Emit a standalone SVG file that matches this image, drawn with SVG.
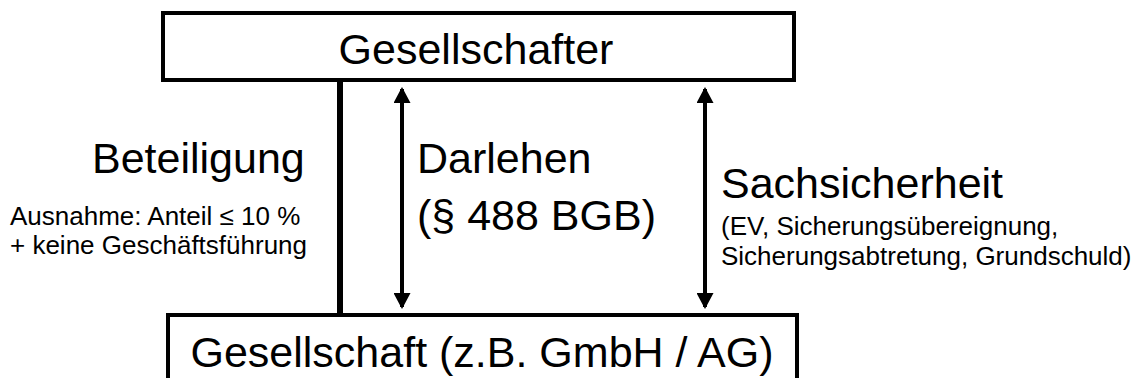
<svg xmlns="http://www.w3.org/2000/svg" width="1134" height="378" viewBox="0 0 1134 378">
<style>
.box{fill:#fff;stroke:#000;stroke-width:4}
.big{font-family:"Liberation Sans",Arial,sans-serif;font-size:43px;fill:#000}
.small{font-family:"Liberation Sans",Arial,sans-serif;font-size:26px;fill:#000}
.arr{stroke:#000;stroke-width:4;fill:none}
</style>
<defs>
<marker id="ah" viewBox="0 0 16 17" refX="14" refY="8.5" markerWidth="16" markerHeight="17" markerUnits="userSpaceOnUse" orient="auto-start-reverse">
<path d="M0,0 L16,8.5 L0,17 Z" fill="#000"/>
</marker>
</defs>
<g id="top">
<rect class="box" x="163" y="13" width="631" height="67"/>
<text class="big" x="476" y="64" text-anchor="middle">Gesellschafter</text>
</g>
<g id="bottom">
<rect class="box" x="168" y="315" width="629" height="80"/>
<text class="big" x="482" y="367" text-anchor="middle">Gesellschaft (z.B. GmbH / AG)</text>
</g>
<g id="connectors">
<line x1="340" y1="80" x2="340" y2="315" stroke="#000" stroke-width="6"/>
<line class="arr" x1="402" y1="89" x2="402" y2="307" marker-start="url(#ah)" marker-end="url(#ah)"/>
<line class="arr" x1="705" y1="89" x2="705" y2="307" marker-start="url(#ah)" marker-end="url(#ah)"/>
</g>
<g id="labels">
<text class="big" x="92" y="173">Beteiligung</text>
<text class="small" x="10" y="225">Ausnahme: Anteil ≤ 10 %</text>
<text class="small" x="10" y="254">+ keine Geschäftsführung</text>
<text class="big" x="417" y="173">Darlehen</text>
<text class="big" x="417" y="230">(§ 488 BGB)</text>
<text class="big" x="721" y="198">Sachsicherheit</text>
<text class="small" x="721" y="235">(EV, Sicherungsübereignung,</text>
<text class="small" x="721" y="265">Sicherungsabtretung, Grundschuld)</text>
</g>
</svg>
